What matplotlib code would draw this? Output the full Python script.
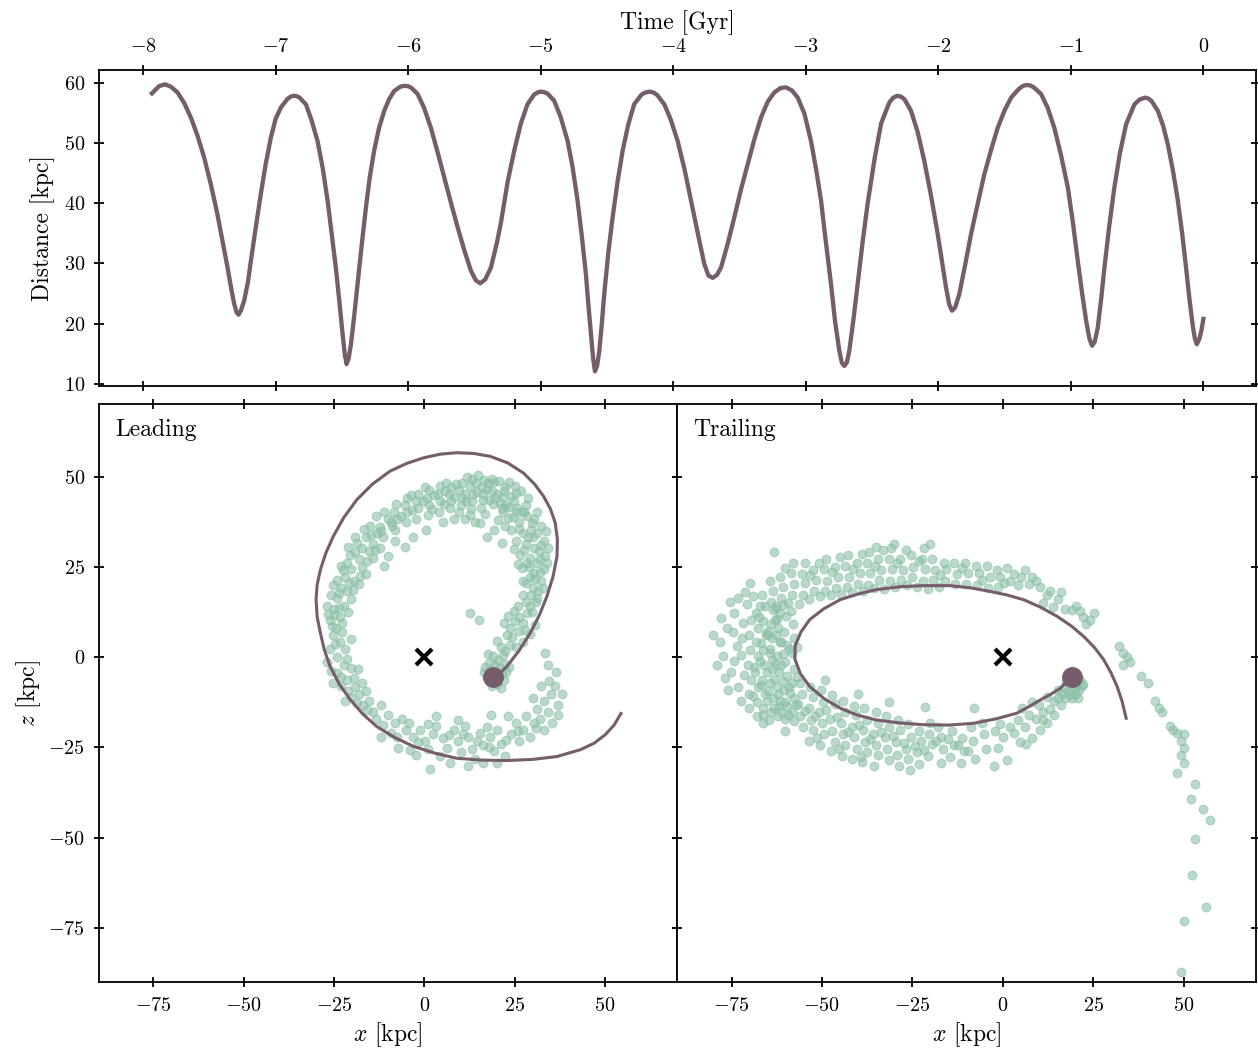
import numpy as np
import matplotlib
matplotlib.use("Agg")
import matplotlib.pyplot as plt

plt.rcParams['font.family'] = 'serif'
plt.rcParams['font.serif'] = ['cmr10', 'DejaVu Serif']
plt.rcParams['mathtext.fontset'] = 'cm'
plt.rcParams['axes.formatter.use_mathtext'] = True
plt.rcParams['axes.unicode_minus'] = True

# ---------------- data ----------------
orbit_time = [-7.934, -7.88, -7.836, -7.79, -7.74, -7.69, -7.64, -7.59, -7.54, -7.49, -7.44, -7.40, -7.363,
              -7.335, -7.313, -7.295, -7.28, -7.262, -7.238, -7.21, -7.187, -7.15, -7.112, -7.075, -7.036,
              -7.0, -6.96, -6.91, -6.888, -6.865, -6.842, -6.82, -6.772, -6.73, -6.684, -6.645, -6.608, -6.578, -6.546,
              -6.52, -6.495, -6.478, -6.465, -6.45, -6.432, -6.41, -6.382, -6.35, -6.319, -6.29, -6.257,
              -6.22, -6.181, -6.145, -6.106, -6.06, -6.04, -6.017, -5.995, -5.975, -5.929, -5.88, -5.829, -5.78, -5.728,
              -5.677, -5.627, -5.577, -5.527, -5.49, -5.457, -5.42, -5.376, -5.33, -5.30, -5.25, -5.20,
              -5.15, -5.10, -5.05, -5.025, -5.0, -4.975, -4.95, -4.899, -4.85, -4.797, -4.76, -4.722, -4.69, -4.659, -4.64,
              -4.621, -4.605, -4.591, -4.575, -4.558, -4.54, -4.521, -4.49, -4.458, -4.42, -4.382, -4.34,
              -4.295, -4.24, -4.21, -4.176, -4.145, -4.12, -4.068, -4.02, -3.967, -3.915, -3.866, -3.815, -3.766, -3.735,
              -3.703, -3.67, -3.64, -3.59, -3.54, -3.49, -3.438, -3.388, -3.338, -3.288, -3.238, -3.19,
              -3.15, -3.105, -3.061, -3.01, -2.961, -2.92, -2.885, -2.85, -2.81, -2.78, -2.747, -2.728,
              -2.709, -2.69, -2.672, -2.64, -2.609, -2.57, -2.533, -2.48, -2.432, -2.37, -2.34, -2.31, -2.28, -2.255,
              -2.206, -2.155, -2.106, -2.055, -2.005, -1.97, -1.942, -1.918, -1.897, -1.873, -1.842, -1.80,
              -1.753, -1.70, -1.653, -1.60, -1.552, -1.50, -1.451, -1.39, -1.36, -1.333, -1.305, -1.28, -1.225, -1.175,
              -1.125, -1.075, -1.023, -0.985, -0.948, -0.915, -0.885, -0.86, -0.84, -0.82, -0.797, -0.772,
              -0.747, -0.71, -0.672, -0.63, -0.583, -0.52, -0.48, -0.44, -0.415, -0.39, -0.344, -0.305, -0.269, -0.23,
              -0.193, -0.16, -0.131, -0.105, -0.08, -0.065, -0.05, -0.03, -0.015, 0.0]
orbit_distance = [58.2, 59.4, 59.7, 59.3, 58.35, 56.6, 54.2, 51.2, 47.6, 43.2, 38.2, 33.6, 29.3,
                  25.8, 23.3, 21.9, 21.5, 22.2, 23.8, 26.8, 30.4, 36.0, 41.5, 46.5, 50.9,
                  54.0, 55.9, 57.3, 57.65, 57.8, 57.75, 57.5, 56.4, 53.8, 50.3, 45.8, 40.4, 35.0, 29.3,
                  23.8, 18.3, 14.8, 13.3, 14.2, 16.6, 20.8, 26.6, 33.2, 39.3, 44.3, 48.7,
                  52.5, 55.3, 57.2, 58.6, 59.3, 59.42, 59.45, 59.35, 59.1, 58.1, 55.8, 52.5, 48.6, 44.25,
                  40.0, 36.0, 32.2, 28.8, 27.2, 26.7, 27.3, 29.3, 33.5, 36.8, 43.5, 48.7,
                  53.2, 56.4, 58.0, 58.35, 58.5, 58.4, 58.2, 57.0, 54.3, 50.3, 46.0, 40.4, 34.5, 28.2, 23.0,
                  18.3, 14.3, 12.1, 13.0, 15.5, 19.8, 24.9, 31.8, 37.6, 43.6, 48.7, 53.0,
                  56.4, 58.0, 58.35, 58.5, 58.3, 57.9, 56.4, 53.9, 50.3, 45.6, 40.4, 35.0, 29.9, 28.0,
                  27.6, 28.1, 29.3, 33.2, 37.6, 42.2, 46.5, 50.6, 54.2, 56.8, 58.35, 59.1,
                  59.2, 58.7, 57.5, 54.8, 50.3, 45.3, 40.4, 33.8, 26.6, 20.5, 15.5, 13.5,
                  13.0, 13.6, 15.5, 20.8, 26.6, 33.8, 40.0, 47.5, 53.2, 56.7, 57.5, 57.8, 57.65, 57.2,
                  55.3, 51.7, 47.0, 41.2, 34.9, 29.9, 26.0, 23.2, 22.15, 22.7, 24.9, 29.5,
                  34.9, 40.2, 44.8, 49.0, 52.5, 55.4, 57.5, 59.0, 59.45, 59.6, 59.5, 59.2, 58.1, 55.8,
                  52.5, 48.0, 42.6, 36.8, 30.4, 25.0, 20.5, 17.5, 16.35, 17.0, 19.4, 24.0,
                  29.3, 36.3, 42.6, 48.3, 53.1, 56.4, 57.2, 57.5, 57.35, 56.9, 55.3, 52.9, 49.8, 45.4,
                  40.4, 34.9, 29.3, 24.0, 19.6, 17.6, 16.6, 17.5, 18.9, 20.8]

lead_orbit_x = [19.1, 21.0, 22.8, 26.2, 29.3, 31.8, 33.9, 35.6, 36.7, 36.8, 36.2, 34.9, 33.0, 30.5, 27.4,
                23.0, 18.2, 13.6, 9.0, 4.4, -0.2, -5.0, -9.5, -14.4, -18.7, -22.3, -25.2, -27.3, -28.8,
                -29.7, -30.0, -29.7, -28.8, -27.7, -26.1, -23.6, -20.5, -17.0, -13.2, -8.3, -3.0, 3.0,
                9.0, 16.0, 22.8, 30.0, 36.7, 43.2, 47.0, 50.0, 52.5, 54.4]
lead_orbit_z = [-5.8, -4.3, -2.6, 1.8, 6.7, 11.6, 16.8, 22.3, 27.9, 32.7, 37.2, 41.0, 44.5, 47.9, 51.0,
                53.8, 55.6, 56.4, 56.6, 56.2, 55.2, 53.6, 51.5, 47.9, 43.6, 38.7, 33.5, 28.8, 24.2,
                20.0, 15.9, 11.2, 6.7, 2.0, -2.6, -7.4, -11.8, -15.8, -19.2, -22.2, -24.7, -26.6,
                -28.0, -28.5, -28.6, -28.3, -27.5, -25.6, -23.8, -21.5, -18.8, -15.6]

trail_orbit_x = [18.9, 15.9, 13.2, 10.4, 7.2, 3.9, -2.0, -8.1, -15.0, -22.0, -28.5, -34.9, -40.3, -45.0,
                 -49.5, -53.4, -56.0, -57.5, -57.4, -55.8, -53.4, -49.5, -45.0, -40.0, -34.9, -28.5,
                 -22.0, -14.6, -9.0, -3.5, 1.2, 5.8, 10.5, 15.0, 19.0, 22.4, 25.4, 27.9, 29.9, 31.6,
                 33.0, 34.1]
trail_orbit_z = [-5.5, -8.6, -10.3, -11.8, -13.7, -15.5, -17.1, -18.3, -18.8, -18.7, -18.2, -17.4, -16.0,
                 -14.1, -11.4, -8.1, -4.5, -0.5, 3.2, 7.0, 10.4, 13.4, 15.9, 17.5, 18.7, 19.5, 19.8,
                 19.8, 19.2, 18.2, 17.2, 15.9, 13.8, 11.3, 8.6, 5.7, 2.6, -0.7, -4.3, -8.1, -12.3, -16.9]

progenitor_x = 19.0
progenitor_z = -5.6

# leading-arm particles (x, z)
lead_particles = [
    # progenitor clump
    (18.2, -3.5), (19.5, -2.2), (20.8, -3.1), (21.6, -4.6), (17.3, -5.4), (18.6, -6.8), (20.1, -7.3),
    (21.9, -6.2), (22.7, -4.1), (19.2, -4.4), (16.4, -4.2), (20.4, -0.8), (17.9, -1.6), (22.3, -1.9),
    (21.2, -8.4), (18.8, -8.1), (16.9, -2.7), (23.4, -2.8), (20.3, -5.3), (19.1, 0.3), (17.5, 0.9), (21.7, 0.6),
    # rising along the orbit
    (22.4, 1.7), (23.6, 3.4), (21.1, 2.8), (24.3, 5.6), (25.4, 2.9), (26.1, 7.3), (23.8, 8.1), (27.2, 9.4),
    (22.9, 6.2), (26.3, 11.2), (28.4, 12.3), (25.1, 10.1), (20.2, 4.6), (29.1, 6.4), (27.4, 4.1), (30.6, 8.8),
    (29.7, 12.6), (28.1, 15.2), (25.8, 14.1), (24.7, 12.7), (22.1, 9.5), (27.9, 7.6), (23.1, 11.3),
    (15.2, 10.4), (33.4, 1.2), (34.1, -2.3), (12.5, 12.1),
    # right side
    (29.3, 14.2), (31.2, 16.4), (27.4, 17.3), (30.1, 19.2), (32.3, 21.1), (28.2, 20.4), (33.1, 24.3),
    (30.4, 23.2), (27.1, 24.6), (31.3, 26.2), (29.2, 27.4), (33.3, 28.1), (26.4, 28.2), (30.2, 30.3),
    (32.4, 31.1), (28.1, 31.4), (25.3, 32.2), (31.1, 34.3), (29.4, 35.1), (27.2, 34.4), (24.1, 35.3),
    (32.2, 36.4), (30.3, 38.2), (26.1, 37.3), (28.4, 39.1), (23.2, 38.4), (31.4, 18.3), (29.1, 22.2),
    (32.1, 27.3), (28.3, 26.1), (30.1, 33.2), (26.2, 35.4), (33.2, 32.2), (29.4, 17.1), (27.3, 21.2),
    (31.2, 40.1), (25.4, 40.3), (22.2, 36.4), (20.3, 38.1), (21.4, 41.2), (30.8, 15.3), (32.7, 19.1),
    (28.9, 24.9), (34.0, 26.2), (31.8, 29.3), (27.6, 29.8), (33.6, 34.8), (29.8, 37.2), (26.9, 40.2),
    (24.6, 38.7), (31.9, 23.5), (28.6, 33.3), (34.2, 30.1), (30.7, 21.7), (26.0, 25.8), (24.8, 30.0),
    (19.3, 35.2), (15.4, 37.1), (17.3, 33.2), (14.1, 37.4), (11.2, 38.3), (21.5, 31.5),
    # top arc
    (28.2, 42.1), (27.6, 40.3), (28.7, 44.2), (25.3, 45.4), (24.8, 43.1), (25.6, 41.2), (25.2, 47.3),
    (22.4, 47.2), (21.8, 44.3), (22.6, 42.1), (22.1, 46.0), (21.7, 40.2), (19.3, 48.4), (18.7, 46.1),
    (19.5, 44.2), (19.1, 42.3), (18.6, 49.3), (16.4, 49.1), (15.8, 47.2), (16.3, 45.3), (16.1, 43.4),
    (15.7, 41.2), (13.2, 49.4), (12.7, 47.3), (13.5, 45.1), (13.1, 43.3), (12.8, 41.1), (10.3, 48.2),
    (9.7, 46.4), (10.4, 44.1), (10.1, 42.2), (9.6, 40.3), (7.3, 47.1), (6.8, 45.2), (7.4, 43.3), (7.1, 41.4),
    (4.2, 47.3), (3.7, 45.1), (4.4, 43.2), (3.9, 40.2), (1.2, 46.4), (0.7, 44.1), (1.4, 42.2), (0.9, 39.3),
    (-1.8, 45.2), (-2.3, 43.1), (-1.7, 41.3), (-2.2, 38.2), (-4.8, 44.1), (-5.3, 42.2), (-4.7, 40.1),
    (-5.2, 37.3), (-7.8, 42.3), (-8.3, 40.1), (-7.7, 38.2), (-8.2, 35.3), (14.2, 48.1), (17.3, 46.6),
    (20.2, 45.1), (11.3, 45.3), (8.2, 44.3), (23.5, 48.5), (20.6, 48.7), (11.8, 49.9), (14.7, 50.3),
    (17.6, 48.2), (26.8, 46.1), (24.0, 44.5), (8.8, 47.8), (5.6, 46.0), (2.6, 44.8), (-0.5, 43.2),
    (-3.4, 40.7), (-6.4, 39.0), (-9.2, 37.4), (2.1, 41.0), (5.5, 42.3), (11.5, 43.2), (14.6, 45.8),
    (18.0, 43.6), (20.8, 42.6), (23.3, 41.6), (-3.7, 44.9), (0.2, 47.2), (6.0, 48.3),
    (5.2, 37.3), (0.4, 35.2), (-3.1, 33.4), (8.3, 38.2), (-8.2, 32.1), (-5.3, 30.4), (-10.2, 28.1),
    (-11.1, 25.3), (12.6, 39.4), (16.8, 39.7),
    # left upper arc
    (-10.2, 38.3), (-12.3, 36.1), (-11.4, 33.2), (-13.1, 34.4), (-14.2, 31.3), (-16.1, 33.2), (-15.3, 29.4),
    (-17.2, 30.1), (-18.1, 27.3), (-19.3, 29.2), (-17.4, 25.1), (-20.2, 24.3), (-21.3, 26.2), (-19.4, 21.1),
    (-22.1, 22.3), (-23.2, 19.1), (-21.4, 18.2), (-24.1, 16.3), (-22.3, 14.2), (-25.1, 13.4), (-23.3, 11.1),
    (-26.2, 10.3), (-24.4, 8.2), (-21.2, 12.4), (-20.3, 16.1), (-18.2, 20.3), (-16.3, 23.1), (-14.1, 27.4),
    (-12.2, 30.1), (-27.1, 14.2), (-25.3, 20.1), (-23.1, 25.3), (-21.2, 30.4), (-19.1, 33.2), (-15.2, 36.3),
    (-13.3, 39.2), (-9.1, 36.4), (-11.2, 40.1), (-16.7, 35.4), (-18.6, 31.6), (-20.6, 28.2), (-22.5, 24.0),
    (-24.3, 21.4), (-25.8, 17.2), (-26.8, 12.0), (-23.7, 13.6), (-22.9, 9.5), (-24.9, 11.6), (-19.8, 18.6),
    (-17.9, 22.6), (-15.8, 26.5), (-13.7, 29.6), (-11.9, 35.0), (-14.8, 33.8), (-20.9, 20.5), (-23.7, 17.8),
    (-25.5, 8.7),
    # left lower arc
    (-25.2, 6.1), (-23.3, 4.2), (-26.1, 2.3), (-24.2, 0.1), (-22.1, 2.4), (-22.3, -2.1), (-24.1, -4.3),
    (-20.2, -3.1), (-21.3, -6.2), (-23.1, -8.1), (-19.2, -8.3), (-18.1, -10.2), (-20.3, -11.1), (-16.2, -9.3),
    (-17.1, -13.2), (-15.3, -12.1), (-14.2, -15.3), (-12.1, -13.2), (-13.3, -17.1), (-20.2, 5.1), (-27.1, -1.3),
    (-25.2, -7.1), (-18.3, -3.2), (-22.8, 6.9), (-24.8, 3.6), (-21.5, -0.4), (-23.0, -5.6), (-19.6, -5.9),
    (-21.2, -9.3), (-17.4, -7.1), (-16.0, -14.5), (-18.6, -12.8), (-26.0, -3.9), (-22.0, -12.0),
    # bottom arc
    (-10.2, -16.1), (-8.1, -18.3), (-9.3, -21.1), (-6.2, -17.1), (-5.1, -20.2), (-3.3, -22.1), (-4.2, -18.3),
    (-1.1, -20.2), (0.2, -23.1), (2.3, -21.2), (1.1, -25.3), (3.2, -19.1), (5.1, -22.3), (6.3, -25.2),
    (4.2, -27.3), (8.1, -20.2), (9.3, -23.1), (10.2, -26.3), (12.1, -22.2), (11.3, -19.1), (13.2, -25.3),
    (14.1, -28.2), (15.3, -21.1), (16.2, -24.3), (18.1, -22.2), (19.3, -26.1), (17.2, -19.3), (20.1, -20.2),
    (21.3, -24.1), (22.2, -27.3), (24.1, -21.2), (25.3, -18.1), (26.2, -23.3), (23.1, -16.2), (27.3, -20.1),
    (28.1, -16.3), (29.2, -22.1), (30.3, -18.2), (31.1, -14.3), (-2.2, -27.1), (7.1, -29.3), (12.2, -30.1),
    (16.3, -29.2), (-7.2, -25.1), (3.1, -16.2), (9.2, -17.3), (18.3, -16.1), (-12.1, -22.2), (20.2, -29.3),
    (-7.6, -22.0), (-1.8, -23.6), (6.7, -21.6), (14.5, -23.2), (22.7, -22.9), (-11.4, -18.8), (0.9, -18.4),
    (10.6, -21.2), (17.8, -25.0), (25.8, -20.5), (1.6, -31.0), (-4.0, -25.8),
    # bottom-right extension
    (32.1, -17.2), (33.2, -12.1), (34.3, -15.2), (35.1, -10.3), (36.2, -8.1), (37.1, -13.3), (35.2, -18.1),
    (33.1, -20.2), (36.3, -4.2), (38.1, -10.2), (32.2, -8.1), (30.1, -11.2), (36.9, -16.0), (34.5, -6.5),
    (31.0, -19.7),
]

# trailing-arm particles (x, z)
trail_particles = [
    # progenitor clump
    (19.1, -7.2), (20.2, -8.1), (21.3, -6.2), (18.1, -9.3), (20.3, -10.1), (17.2, -8.2), (19.1, -11.3),
    (21.2, -9.1), (16.3, -10.2), (18.2, -6.1), (22.1, -7.3), (17.1, -11.2), (15.2, -9.1), (20.4, -5.2),
    (19.6, -8.9), (21.8, -8.0), (18.6, -10.4), (20.9, -11.2), (17.6, -7.0),
    # below the orbit, near the progenitor
    (14.1, -12.2), (12.2, -11.1), (13.1, -14.3), (11.2, -15.1), (10.1, -13.2), (9.2, -17.1), (8.1, -12.3),
    (7.2, -16.1), (6.1, -19.2), (12.1, -18.2), (10.2, -20.1), (5.2, -14.2), (4.1, -17.3), (3.2, -21.1),
    (8.2, -22.3), (2.1, -19.2), (1.2, -28.4), (6.3, -24.1), (0.1, -22.2), (-2.1, -20.3), (-1.2, -25.1),
    (14.2, -16.1), (16.1, -13.2), (15.2, -11.4), (11.0, -17.3), (4.7, -23.4), (-0.7, -18.6),
    # lower band
    (-5.2, -21.3), (-4.6, -25.4), (-5.7, -18.2), (-8.3, -23.1), (-7.6, -28.2), (-8.8, -19.4), (-11.2, -22.5),
    (-10.7, -26.1), (-11.6, -29.3), (-14.1, -20.3), (-13.5, -24.2), (-14.6, -27.6), (-17.2, -22.1),
    (-16.6, -25.4), (-17.8, -19.2), (-17.1, -29.4), (-20.3, -21.4), (-19.7, -24.1), (-20.8, -27.3),
    (-20.1, -18.3), (-23.2, -20.4), (-22.6, -23.1), (-23.7, -26.2), (-23.1, -29.5), (-26.2, -18.4),
    (-25.5, -22.1), (-26.8, -25.3), (-26.1, -28.2), (-25.7, -31.2), (-29.1, -17.3), (-28.4, -20.2),
    (-29.6, -23.4), (-29.2, -27.1), (-28.7, -30.2), (-32.3, -16.2), (-31.5, -19.4), (-32.7, -22.1),
    (-32.1, -25.3), (-31.6, -28.4), (-35.2, -15.3), (-34.6, -18.1), (-35.8, -21.2), (-35.1, -24.4),
    (-34.4, -27.2), (-35.6, -30.1), (-38.3, -14.2), (-37.6, -17.3), (-38.7, -20.1), (-38.1, -23.4),
    (-37.5, -26.3), (-38.8, -29.1), (-41.2, -13.4), (-40.6, -16.1), (-41.8, -19.3), (-41.1, -22.2),
    (-40.4, -25.4), (-41.6, -28.1), (-44.3, -12.2), (-43.7, -15.3), (-44.8, -18.1), (-44.1, -21.4),
    (-43.5, -24.2), (-44.6, -27.3), (-47.2, -10.4), (-46.5, -13.1), (-47.7, -17.2), (-47.1, -20.3),
    (-46.4, -23.4), (-47.6, -26.1), (-50.3, -9.2), (-49.6, -12.4), (-50.8, -15.1), (-50.1, -18.3),
    (-49.4, -21.2), (-50.6, -24.3), (-53.2, -8.3), (-52.5, -11.1), (-53.7, -14.2), (-53.1, -17.4),
    (-52.4, -20.2), (-53.6, -23.1), (-56.1, -7.2), (-55.4, -10.3), (-56.6, -13.1), (-56.2, -16.4),
    (-55.3, -19.2), (-45.8, -16.6), (-39.9, -18.7), (-33.7, -20.6), (-42.7, -20.8), (-36.6, -22.7),
    (-48.8, -14.6), (-51.8, -16.2), (-54.6, -15.0), (-30.4, -21.8), (-27.4, -23.8), (-24.2, -24.6),
    (-18.6, -23.2), (-15.2, -22.6), (-12.4, -24.3), (-9.6, -25.9), (-21.8, -25.8), (-39.3, -27.6),
    (-45.4, -25.5), (-51.4, -22.3), (-57.7, -17.8),
    (-49.2, -6.3), (-31.5, -12.3), (-21.5, -13.7), (-8.1, -14.2), (-40.1, -10.2), (-60.3, -20.3), (-2.4, -30.2),
    # dense turning region
    (-58.2, -15.1), (-57.6, -11.3), (-58.4, -7.2), (-57.8, -3.4), (-58.3, 1.2), (-57.7, 5.3), (-58.1, 9.1),
    (-60.3, -17.2), (-59.8, -13.4), (-60.5, -9.1), (-59.7, -5.3), (-60.2, -1.2), (-59.6, 3.4), (-60.4, 7.1),
    (-59.9, 11.3), (-62.1, -16.3), (-61.6, -12.1), (-62.4, -8.3), (-61.8, -4.1), (-62.3, 0.2), (-61.7, 4.3),
    (-62.2, 8.1), (-61.5, 12.2), (-62.6, 14.3), (-64.2, -15.1), (-63.6, -11.3), (-64.4, -7.2), (-63.8, -3.4),
    (-64.3, 1.1), (-63.7, 5.2), (-64.1, 9.3), (-63.5, 13.1), (-66.3, -14.2), (-65.7, -10.1), (-66.5, -6.3),
    (-65.9, -2.2), (-66.2, 2.1), (-65.6, 6.3), (-66.4, 10.1), (-65.8, 14.2), (-68.1, -12.3), (-67.6, -8.2),
    (-68.4, -4.1), (-67.8, 0.3), (-68.2, 4.2), (-67.7, 8.1), (-68.3, 12.3), (-70.2, -10.1), (-69.7, -6.3),
    (-70.4, -2.2), (-69.8, 2.1), (-70.1, 6.2), (-69.6, 10.3), (-65.1, -4.2), (-63.2, -6.1), (-61.3, -2.3),
    (-64.4, 2.2), (-62.2, -10.3), (-60.1, -12.4), (-63.3, -14.1), (-61.2, 4.1), (-65.3, 6.2), (-59.1, -8.3),
    (-67.2, -1.1), (-63.1, 10.2), (-61.3, -15.2), (-65.2, -12.1), (-59.2, 2.3), (-66.9, -7.6), (-64.9, -9.5),
    (-62.9, -2.0), (-60.9, -6.6), (-58.9, -9.8), (-66.8, 3.9), (-64.8, 7.2), (-62.8, 6.1), (-60.8, 0.8),
    (-68.9, -2.7), (-63.9, -0.7), (-61.9, -13.6), (-59.5, -16.0), (-57.2, -13.2), (-56.9, -5.4), (-57.0, 2.9),
    (-67.3, 11.0), (-69.0, -10.8), (-62.5, 10.5), (-64.6, -17.4), (-66.4, -16.0), (-60.7, 14.5), (-58.7, 12.8),
    # outer edge on the left
    (-73.1, -8.2), (-75.2, -4.1), (-77.3, 0.2), (-78.1, 4.3), (-76.2, 8.1), (-74.3, 12.2), (-73.1, 16.3),
    (-71.2, 18.1), (-79.1, -2.3), (-72.3, -12.1), (-76.1, -9.2), (-80.2, 6.1), (-75.3, 15.2), (-72.1, 5.3),
    (-74.2, -1.1), (-70.2, -14.2), (-68.1, -16.3), (-66.2, -18.2), (-72.4, 0.6), (-71.8, 9.4), (-73.6, 3.1),
    (-71.6, -5.0), (-74.6, 7.0), (-76.8, -5.8), (-70.8, 14.6), (-69.2, 16.8), (-77.9, 10.9),
    # upper band
    (-67.2, 14.3), (-66.6, 17.2), (-64.1, 15.4), (-63.6, 18.2), (-64.4, 21.1), (-61.2, 16.3), (-60.7, 19.4),
    (-61.5, 22.2), (-58.3, 17.1), (-57.6, 20.2), (-58.5, 23.4), (-57.9, 26.1), (-55.2, 17.3), (-54.6, 20.4),
    (-55.5, 23.1), (-54.8, 26.2), (-52.1, 18.2), (-51.6, 21.3), (-52.4, 24.1), (-49.2, 18.3), (-48.7, 21.2),
    (-49.5, 24.4), (-48.9, 27.1), (-46.1, 19.2), (-45.6, 22.3), (-46.4, 25.1), (-43.2, 19.4), (-42.6, 22.1),
    (-43.5, 25.3), (-42.8, 28.2), (-40.1, 20.3), (-39.6, 23.2), (-40.4, 26.1), (-37.2, 20.1), (-36.7, 23.4),
    (-37.5, 26.2), (-36.9, 29.1), (-34.1, 21.3), (-33.6, 24.1), (-34.4, 27.3), (-31.2, 21.1), (-30.6, 24.3),
    (-31.5, 27.2), (-30.9, 30.1), (-28.1, 21.4), (-27.6, 24.2), (-28.4, 27.1), (-25.2, 22.3), (-24.7, 25.1),
    (-25.5, 28.3), (-22.1, 21.2), (-21.6, 24.4), (-22.4, 27.1), (-21.8, 30.3), (-19.2, 21.3), (-18.7, 24.1),
    (-19.5, 27.2), (-16.1, 21.1), (-15.6, 24.3), (-16.4, 26.1), (-13.2, 20.3), (-12.7, 23.1), (-13.5, 26.2),
    (-10.1, 20.2), (-9.6, 23.3), (-10.4, 26.1), (-7.2, 20.1), (-6.7, 23.2), (-7.5, 25.3), (-4.1, 19.2),
    (-3.6, 22.1), (-4.4, 25.2), (-1.2, 19.3), (-0.7, 22.2), (-1.5, 24.1),
    (-62.7, 13.7), (-59.5, 15.1), (-56.4, 14.8), (-53.6, 16.2), (-50.6, 16.9), (-47.6, 17.2), (-44.7, 17.6),
    (-41.6, 18.0), (-38.6, 18.4), (-35.6, 19.1), (-32.8, 19.0), (-29.7, 19.5), (-26.6, 20.1), (-23.7, 19.5),
    (-20.6, 19.0), (-17.6, 19.4), (-53.3, 22.7), (-47.3, 23.5), (-41.3, 24.4), (-35.3, 25.3), (-29.3, 26.0),
    (-23.3, 26.5), (-17.3, 22.8), (-11.3, 24.6), (-5.8, 21.5), (-60.2, 24.8), (-50.9, 26.0), (-45.1, 27.8),
    (-39.0, 28.6), (-33.2, 29.6), (-26.8, 29.6),
    (-63.3, 29.2), (-35.1, 30.4), (-30.2, 31.3), (-20.1, 31.2), (-69.8, 20.6),
    # upper-right arm
    (2.1, 21.2), (3.2, 23.1), (5.1, 22.2), (7.2, 20.3), (8.1, 22.1), (10.2, 19.3), (9.1, 21.2), (12.1, 17.3),
    (11.2, 15.1), (13.1, 18.2), (15.2, 16.1), (17.1, 13.2), (19.2, 13.1), (20.1, 14.2), (22.2, 11.1),
    (24.1, 10.2), (25.2, 12.1), (23.1, 9.2), (32.2, 3.1), (33.1, 1.2), (34.2, 0.1), (35.1, -1.2), (33.3, -2.1),
    (1.1, 24.6), (4.3, 20.0), (6.2, 24.2), (0.4, 20.6), (14.0, 13.9), (16.1, 18.0), (21.4, 12.7),
    # far extension
    (38.1, -5.2), (40.2, -7.1), (42.1, -12.2), (43.2, -14.1), (44.1, -15.3), (46.2, -19.1), (47.1, -20.2),
    (48.2, -21.1), (50.1, -21.2), (49.2, -23.1), (50.1, -25.2), (49.3, -27.1), (50.2, -29.3), (48.1, -32.2),
    (53.2, -35.1), (52.1, -39.2), (55.3, -42.1), (57.2, -45.2), (53.1, -50.2), (52.2, -60.3), (56.1, -69.2),
    (50.1, -73.1), (49.3, -87.1),
]

time_ticks = [-8, -7, -6, -5, -4, -3, -2, -1, 0]
dist_ticks = [10, 20, 30, 40, 50, 60]
pos_ticks = [-75, -50, -25, 0, 25, 50]

# ---------------- style ----------------
LINE = '#765d6c'
STREAM = '#8cc0a7'
TICK_FS = 14.5
LABEL_FS = 17

fig = plt.figure(figsize=(12.58, 10.51), dpi=100)

W, H = 1258.0, 1051.0
def frac(l, t, r, b):
    return [l / W, 1 - b / H, (r - l) / W, (b - t) / H]

ax_top = fig.add_axes(frac(99.3, 70, 1256, 385.7))
ax_l = fig.add_axes(frac(99.3, 404.3, 677.3, 982.3))
ax_r = fig.add_axes(frac(677.3, 404.3, 1256, 982.3))

for ax in (ax_top, ax_l, ax_r):
    for s in ax.spines.values():
        s.set_linewidth(1.3)
    ax.tick_params(direction='inout', length=6.5, width=1.3, labelsize=TICK_FS, pad=7,
                   top=True, bottom=True, left=True, right=True)

# top panel
ax_top.plot(orbit_time, orbit_distance, color=LINE, lw=3.1, solid_joinstyle='round')
ax_top.set_xticks(time_ticks)
ax_top.set_yticks(dist_ticks)
ax_top.tick_params(labeltop=True, labelbottom=False)
ax_top.xaxis.set_label_position('top')
ax_top.set_xlabel('Time [Gyr]', fontsize=LABEL_FS, labelpad=6)
ax_top.set_ylabel('Distance [kpc]', fontsize=LABEL_FS, labelpad=6)

# bottom panels
panels = [(ax_l, lead_particles, lead_orbit_x, lead_orbit_z, 'Leading'),
          (ax_r, trail_particles, trail_orbit_x, trail_orbit_z, 'Trailing')]
for ax, parts, ox, oz, name in panels:
    px = [p[0] for p in parts]
    pz = [p[1] for p in parts]
    ax.scatter(px, pz, s=40, color=STREAM, alpha=0.6, linewidths=0.8, edgecolors=STREAM, zorder=1)
    ax.plot(ox, oz, color=LINE, lw=2.2, zorder=2, solid_joinstyle='round')
    ax.plot([progenitor_x], [progenitor_z], 'o', color=LINE, ms=14, zorder=3)
    ax.plot([0], [0], 'x', color='black', ms=12, mew=3, zorder=3)
    ax.set_xlim(-90, 70)
    ax.set_ylim(-90, 70)
    ax.set_xticks(pos_ticks)
    ax.set_yticks(pos_ticks)
    ax.set_xlabel('$x$ [kpc]', fontsize=LABEL_FS, labelpad=4)
    ax.text(0.027, 0.975, name, transform=ax.transAxes, fontsize=LABEL_FS, va='top', ha='left')

ax_l.set_ylabel('$z$ [kpc]', fontsize=LABEL_FS, labelpad=4)
ax_r.tick_params(labelleft=False)

fig.savefig('out.png', dpi=100)
